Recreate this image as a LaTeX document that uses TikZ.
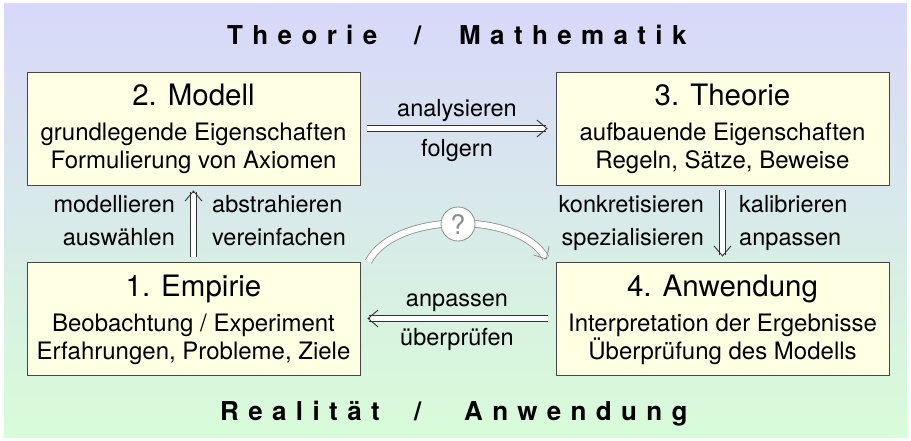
\documentclass[tikz,border=0pt]{standalone}
\usepackage{fontspec}
\setmainfont{TeX Gyre Heros}
\usetikzlibrary{arrows.meta}
\definecolor{bgtop}{RGB}{216,216,250}
\definecolor{bgbot}{RGB}{216,252,216}
\definecolor{boxfill}{RGB}{255,255,228}
\definecolor{boxdraw}{RGB}{70,70,70}
\definecolor{arrdraw}{RGB}{50,50,50}
\definecolor{qdraw}{RGB}{140,140,140}
\begin{document}
\begin{tikzpicture}[x=1pt,y=-1pt,
  box/.style={draw=boxdraw, fill=boxfill, line width=0.8pt, minimum width=333pt, minimum height=113pt, inner sep=0pt},
  ttl/.style={font=\fontsize{29.5}{30}\selectfont, anchor=base, inner sep=0pt},
  sub/.style={font=\fontsize{24}{28}\selectfont, anchor=base, inner sep=0pt},
  lbl/.style={font=\fontsize{23.5}{28}\selectfont, inner sep=0pt},
  head/.style={font=\fontsize{26}{30}\selectfont\bfseries\addfontfeature{LetterSpace=36}, anchor=base west, inner sep=0pt},
  dbl/.style={double=white, double distance=4.5pt, draw=arrdraw, line width=0.9pt, shorten >=1.5pt},
  tipb/.style={draw=arrdraw, line width=0.9pt, -{Straight Barb[length=10pt,width=17pt]}},
  curv/.style={double=white, double distance=6pt, draw=qdraw, line width=0.8pt, shorten >=1.5pt},
  tipc/.style={draw=qdraw, line width=0.8pt, -{Straight Barb[length=10pt,width=18pt]}},
]
\useasboundingbox (0,0) rectangle (911,441);
\shade[top color=bgtop, bottom color=bgbot] (4,4) rectangle (907,437);

\node[head] (h1a) at (227,45) {Theorie};
\node[head] (h1b) at (414,45) {/};
\node[head] (h1c) at (459,45) {Mathematik};
\node[head] (h2a) at (220,420) {Realität};
\node[head] (h2b) at (414,420) {/};
\node[head] (h2c) at (464,420) {Anwendung};

\node[box] (m) at (193.5,128.5) {};
\node[box] (t) at (722.5,128.5) {};
\node[box] (e) at (193.5,318.5) {};
\node[box] (a) at (722.5,318.5) {};

\node[ttl] (m1) at (193.5,106) {2. Modell};
\node[sub] (m2) at (193.5,141) {grundlegende Eigenschaften};
\node[sub] (m3) at (193.5,169) {Formulierung von Axiomen};

\node[ttl] (t1) at (722.5,106) {3. Theorie};
\node[sub] (t2) at (722.5,141) {aufbauende Eigenschaften};
\node[sub] (t3) at (722.5,169) {Regeln, Sätze, Beweise};

\node[ttl] (e1) at (193.5,296) {1. Empirie};
\node[sub] (e2) at (193.5,331) {Beobachtung / Experiment};
\node[sub] (e3) at (193.5,359) {Erfahrungen, Probleme, Ziele};

\node[ttl] (a1) at (722.5,296) {4. Anwendung};
\node[sub] (a2) at (722.5,331) {Interpretation der Ergebnisse};
\node[sub] (a3) at (722.5,359) {Überprüfung des Modells};

% arrows (double shaft + open barb tip)
\draw[dbl] ([xshift=7pt]m.east) -- ([xshift=-8pt]t.west);
\draw[tipb] ([xshift=-10pt]t.west) -- ([xshift=-8pt]t.west);
\draw[dbl] ([yshift=5pt]e.north) -- ([yshift=-5pt]m.south);
\draw[tipb] ([yshift=-7pt]m.south) -- ([yshift=-5pt]m.south);
\draw[dbl] ([yshift=-5pt]t.south) -- ([yshift=5pt]a.north);
\draw[tipb] ([yshift=7pt]a.north) -- ([yshift=5pt]a.north);
\draw[dbl] ([xshift=-8pt]a.west) -- ([xshift=7pt]e.east);
\draw[tipb] ([xshift=9pt]e.east) -- ([xshift=7pt]e.east);

% labels
\node[lbl, anchor=base] (l1) at (457,117) {analysieren};
\node[lbl, anchor=base] (l2) at (457,157) {folgern};
\node[lbl, anchor=base east] (l3) at (175,213) {modellieren};
\node[lbl, anchor=base west] (l4) at (212,213) {abstrahieren};
\node[lbl, anchor=base east] (l5) at (175,245) {auswählen};
\node[lbl, anchor=base west] (l6) at (212,245) {vereinfachen};
\node[lbl, anchor=base east] (l7) at (704,213) {konkretisieren};
\node[lbl, anchor=base west] (l8) at (739,213) {kalibrieren};
\node[lbl, anchor=base east] (l9) at (704,245) {spezialisieren};
\node[lbl, anchor=base west] (l10) at (739,245) {anpassen};
\node[lbl, anchor=base] (l11) at (457,306) {anpassen};
\node[lbl, anchor=base] (l12) at (457,345) {überprüfen};

% curved question arrow
\coordinate (qs) at ([xshift=8pt]e.north east);
\coordinate (qe) at ([xshift=-9pt,yshift=2pt]a.north west);
\draw[curv] (qs) .. controls (395,211) and (520,211) .. (qe);
\draw[tipc] ([shift={(-1,-1.75)}]qe) -- (qe);
\node[circle, draw=qdraw, fill=white, line width=0.8pt, minimum size=34pt, inner sep=0pt, text=qdraw, font=\fontsize{27}{30}\selectfont] (q) at (458,224) {?};
\end{tikzpicture}
\end{document}
